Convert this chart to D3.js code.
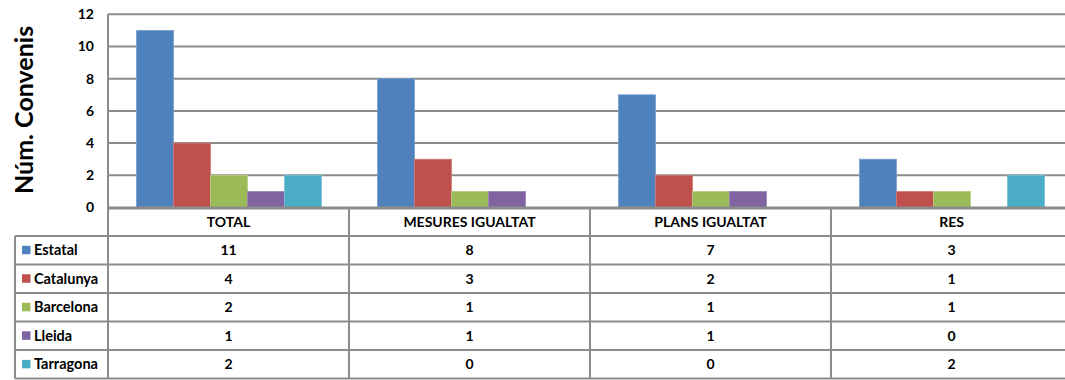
<!DOCTYPE html>
<html>
<head>
<meta charset="utf-8">
<script src="https://cdn.jsdelivr.net/npm/d3@7"></script>
<style>
  html, body { margin: 0; padding: 0; background: #fff; overflow: hidden; }
  svg { display: block; font-family: Lato, "Open Sans", sans-serif; font-weight: bold; }
</style>
</head>
<body>
<svg id="chart" width="1065" height="380"></svg>
<script>
// Categories and series
const categories = ["TOTAL", "MESURES IGUALTAT", "PLANS IGUALTAT", "RES"];
const seriesNames = ["Estatal", "Catalunya", "Barcelona", "Lleida", "Tarragona"];
const estatal   = [11, 8, 7, 3];
const catalunya = [4, 3, 2, 1];
const barcelona = [2, 1, 1, 1];
const lleida    = [1, 1, 1, 0];
const tarragona = [2, 0, 0, 2];
const yTicks = [0, 2, 4, 6, 8, 10, 12];
const yTitle = "Núm. Convenis";

const seriesValues = [estatal, catalunya, barcelona, lleida, tarragona];
const colors = ["#4F81BD", "#C0504D", "#9BBB59", "#8064A2", "#4BACC6"];
const borders = ["#7a9fd0", "#d27a77", "#b5cf84", "#9d86ba", "#78c2d6"];

const svg = d3.select("#chart");
const gridColor = "#8c8c8c";
const textSize = 14;

// Layout
const plotLeft = 108, colW = 241, plotTop = 14.3, plotBottom = 207.5;
const tableTop = 208, headerBottom = 236, tableBottom = 378.6, legendLeft = 15;

const x0 = d3.scaleBand().domain(categories).range([plotLeft, plotLeft + colW * categories.length]).padding(0);
const x1 = d3.scaleBand().domain(seriesNames).range([28.5, 213.5]).padding(0);
const y = d3.scaleLinear().domain([0, 12]).range([plotBottom, plotTop]);
const row = d3.scaleBand().domain(seriesNames).range([headerBottom, tableBottom]).padding(0);

// Gridlines
svg.append("g")
  .selectAll("line")
  .data(yTicks.filter(t => t > 0))
  .join("line")
  .attr("x1", plotLeft).attr("x2", 1065)
  .attr("y1", d => y(d)).attr("y2", d => y(d))
  .attr("stroke", gridColor).attr("stroke-width", 2);

// Y axis
const yAxis = d3.axisLeft(y).tickValues(yTicks).tickSize(0).tickPadding(14);
const gy = svg.append("g").attr("transform", `translate(${plotLeft},0)`).call(yAxis);
gy.select(".domain").remove();
gy.selectAll("text")
  .attr("font-size", textSize).attr("font-weight", "bold")
  .attr("font-family", "Lato, sans-serif").attr("fill", "#000");

// Bars
const groups = svg.append("g")
  .selectAll("g")
  .data(categories)
  .join("g")
  .attr("transform", d => `translate(${x0(d)},0)`);

groups.selectAll("rect")
  .data((c, ci) => seriesNames.map((s, si) => ({ s, si, v: seriesValues[si][ci] })).filter(d => d.v > 0))
  .join("rect")
  .attr("x", d => x1(d.s))
  .attr("width", x1.bandwidth())
  .attr("y", d => y(d.v))
  .attr("height", d => y(0) - y(d.v))
  .attr("fill", d => colors[d.si])
  .attr("stroke", d => borders[d.si])
  .attr("stroke-width", 0.8);

// Y axis line (continues through the table)
svg.append("line")
  .attr("x1", plotLeft).attr("x2", plotLeft)
  .attr("y1", plotTop).attr("y2", tableBottom)
  .attr("stroke", gridColor).attr("stroke-width", 2);

// Y title
svg.append("text")
  .attr("transform", `translate(33,${(plotTop + plotBottom) / 2 - 1}) rotate(-90)`)
  .attr("text-anchor", "middle")
  .attr("font-size", 25)
  .attr("font-weight", "bold")
  .text(yTitle);

// Data table
const table = svg.append("g");
const tableLine = (x1p, y1p, x2p, y2p, w) => table.append("line")
  .attr("x1", x1p).attr("y1", y1p).attr("x2", x2p).attr("y2", y2p)
  .attr("stroke", gridColor).attr("stroke-width", w || 2);

// Horizontal lines
tableLine(plotLeft, tableTop, 1065, tableTop, 3);
seriesNames.forEach(s => tableLine(legendLeft, row(s), 1065, row(s)));
tableLine(legendLeft, tableBottom, 1065, tableBottom);
// Vertical lines
tableLine(legendLeft, headerBottom, legendLeft, tableBottom);
categories.slice(1).forEach(c => tableLine(x0(c), tableTop, x0(c), tableBottom));

// Header labels
table.selectAll("text.cat")
  .data(categories)
  .join("text")
  .attr("class", "cat")
  .attr("x", d => x0(d) + x0.bandwidth() / 2)
  .attr("y", (tableTop + headerBottom) / 2)
  .attr("dy", "0.35em")
  .attr("text-anchor", "middle")
  .attr("font-size", textSize)
  .text(d => d);

// Legend column
const legendRows = table.selectAll("g.leg")
  .data(seriesNames)
  .join("g")
  .attr("class", "leg")
  .attr("transform", d => `translate(0,${row(d) + row.bandwidth() / 2})`);
legendRows.append("rect")
  .attr("x", 22).attr("y", -4.5).attr("width", 8.5).attr("height", 8.5)
  .attr("fill", (d, i) => colors[i]);
legendRows.append("text")
  .attr("x", 34).attr("dy", "0.35em")
  .attr("font-size", textSize + 0.5)
  .text(d => d);

// Values
seriesNames.forEach((s, si) => {
  table.selectAll(null)
    .data(categories)
    .join("text")
    .attr("x", d => x0(d) + x0.bandwidth() / 2)
    .attr("y", row(s) + row.bandwidth() / 2)
    .attr("dy", "0.35em")
    .attr("text-anchor", "middle")
    .attr("font-size", textSize)
    .text((d, ci) => seriesValues[si][ci]);
});
</script>
</body>
</html>
